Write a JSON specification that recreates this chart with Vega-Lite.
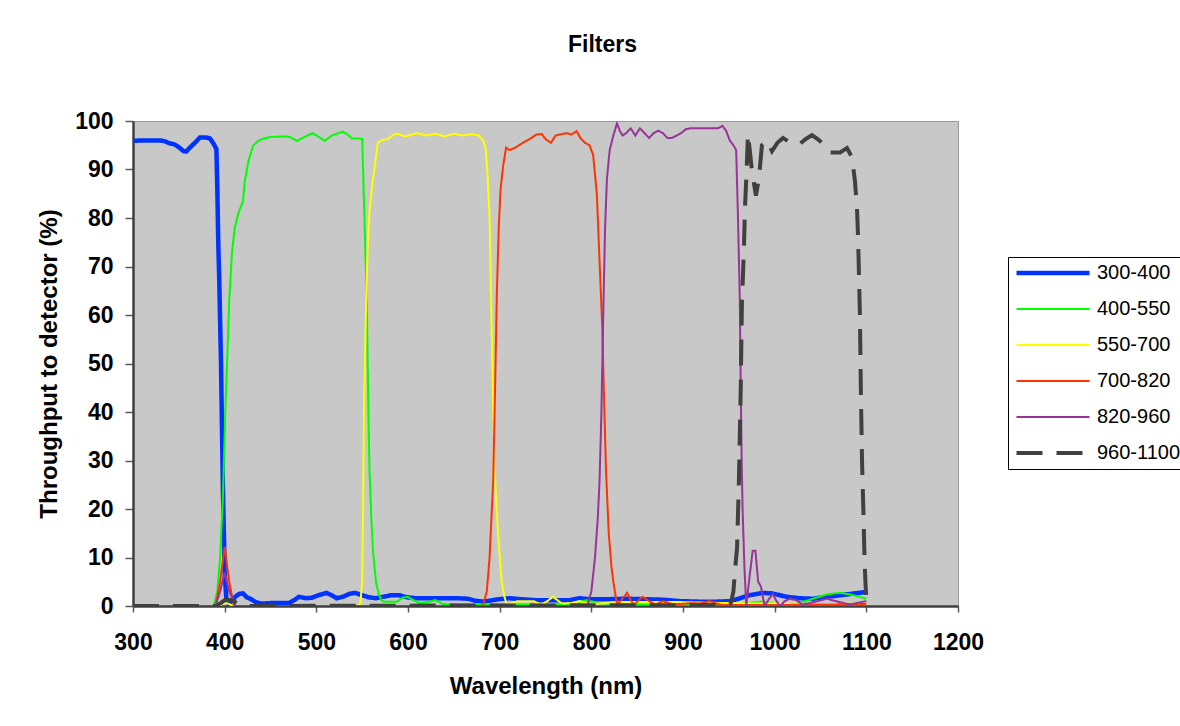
{
  "$schema": "https://vega.github.io/schema/vega-lite/v6.json",
  "width": 825,
  "height": 485,
  "autosize": {"type": "none"},
  "padding": {"left": 133, "top": 121, "right": 222, "bottom": 120},
  "background": "white",
  "title": {"text": "Filters", "font": "Liberation Sans", "fontSize": 23, "fontWeight": "bold", "color": "black", "anchor": "middle", "frame": "group", "baseline": "alphabetic", "offset": 35, "dx": 57},
  "config": {
    "view": {"fill": "#C8C8C8", "stroke": "#9A9A9A", "strokeWidth": 1},
    "axis": {"grid": false, "labelFont": "Liberation Sans", "labelFontWeight": "bold", "labelFontSize": 23, "labelColor": "black", "titleFont": "Liberation Sans", "titleFontWeight": "bold", "titleFontSize": 24, "titleColor": "black", "domainColor": "#404040", "domainWidth": 2.5, "tickColor": "#5A5A5A", "tickWidth": 1.5}
  },
  "data": {"values": [
    {"s":"300-400","x":300,"y":95.9},{"s":"300-400","x":310,"y":96},{"s":"300-400","x":320,"y":96},{"s":"300-400","x":330,"y":96},{"s":"300-400","x":335,"y":95.8},{"s":"300-400","x":340,"y":95.4},{"s":"300-400","x":345,"y":95.2},{"s":"300-400","x":350,"y":94.6},{"s":"300-400","x":355,"y":93.8},{"s":"300-400","x":358,"y":93.7},{"s":"300-400","x":362,"y":94.5},{"s":"300-400","x":368,"y":95.6},{"s":"300-400","x":373,"y":96.6},{"s":"300-400","x":380,"y":96.6},{"s":"300-400","x":384,"y":96.4},{"s":"300-400","x":388,"y":95.3},{"s":"300-400","x":391,"y":94.2},{"s":"300-400","x":392,"y":86},{"s":"300-400","x":393,"y":75},{"s":"300-400","x":394,"y":68},{"s":"300-400","x":396,"y":50},{"s":"300-400","x":398,"y":25},{"s":"300-400","x":400,"y":7},{"s":"300-400","x":402,"y":1},{"s":"300-400","x":404,"y":0.5},{"s":"300-400","x":408,"y":1},{"s":"300-400","x":412,"y":2},{"s":"300-400","x":416,"y":2.5},{"s":"300-400","x":420,"y":2.6},{"s":"300-400","x":424,"y":1.8},{"s":"300-400","x":428,"y":1.5},{"s":"300-400","x":434,"y":0.8},{"s":"300-400","x":440,"y":0.5},{"s":"300-400","x":450,"y":0.6},{"s":"300-400","x":460,"y":0.6},{"s":"300-400","x":470,"y":0.6},{"s":"300-400","x":476,"y":1.2},{"s":"300-400","x":481,"y":1.9},{"s":"300-400","x":489,"y":1.6},{"s":"300-400","x":495,"y":1.7},{"s":"300-400","x":502,"y":2.2},{"s":"300-400","x":511,"y":2.7},{"s":"300-400","x":517,"y":2.2},{"s":"300-400","x":522,"y":1.6},{"s":"300-400","x":529,"y":1.9},{"s":"300-400","x":536,"y":2.5},{"s":"300-400","x":542,"y":2.7},{"s":"300-400","x":549,"y":2.3},{"s":"300-400","x":557,"y":1.8},{"s":"300-400","x":565,"y":1.6},{"s":"300-400","x":573,"y":1.9},{"s":"300-400","x":581,"y":2.2},{"s":"300-400","x":591,"y":2.2},{"s":"300-400","x":599,"y":1.8},{"s":"300-400","x":609,"y":1.6},{"s":"300-400","x":624,"y":1.6},{"s":"300-400","x":639,"y":1.6},{"s":"300-400","x":654,"y":1.6},{"s":"300-400","x":665,"y":1.5},{"s":"300-400","x":673,"y":1.1},{"s":"300-400","x":681,"y":0.9},{"s":"300-400","x":689,"y":1.1},{"s":"300-400","x":699,"y":1.4},{"s":"300-400","x":711,"y":1.6},{"s":"300-400","x":723,"y":1.4},{"s":"300-400","x":740,"y":1.2},{"s":"300-400","x":758,"y":1.2},{"s":"300-400","x":776,"y":1.2},{"s":"300-400","x":787,"y":1.6},{"s":"300-400","x":798,"y":1.4},{"s":"300-400","x":818,"y":1.4},{"s":"300-400","x":838,"y":1.5},{"s":"300-400","x":858,"y":1.4},{"s":"300-400","x":878,"y":1.3},{"s":"300-400","x":897,"y":1},{"s":"300-400","x":917,"y":0.9},{"s":"300-400","x":937,"y":0.9},{"s":"300-400","x":952,"y":1},{"s":"300-400","x":962,"y":1.6},{"s":"300-400","x":972,"y":2.2},{"s":"300-400","x":987,"y":2.7},{"s":"300-400","x":997,"y":2.6},{"s":"300-400","x":1013,"y":1.9},{"s":"300-400","x":1027,"y":1.6},{"s":"300-400","x":1042,"y":1.5},{"s":"300-400","x":1057,"y":1.9},{"s":"300-400","x":1071,"y":2.2},{"s":"300-400","x":1087,"y":2.6},{"s":"300-400","x":1100,"y":2.9},

    {"s":"400-550","x":300,"y":0},{"s":"400-550","x":388,"y":0},{"s":"400-550","x":392,"y":3},{"s":"400-550","x":395,"y":10},{"s":"400-550","x":398,"y":22},{"s":"400-550","x":401,"y":42},{"s":"400-550","x":403,"y":52},{"s":"400-550","x":405,"y":63},{"s":"400-550","x":408,"y":73},{"s":"400-550","x":411,"y":78},{"s":"400-550","x":415,"y":81},{"s":"400-550","x":420,"y":83.5},{"s":"400-550","x":422,"y":87.6},{"s":"400-550","x":426,"y":91.8},{"s":"400-550","x":431,"y":94.9},{"s":"400-550","x":436,"y":95.8},{"s":"400-550","x":441,"y":96.3},{"s":"400-550","x":450,"y":96.7},{"s":"400-550","x":461,"y":96.8},{"s":"400-550","x":468,"y":96.8},{"s":"400-550","x":472,"y":96.6},{"s":"400-550","x":479,"y":95.9},{"s":"400-550","x":488,"y":96.8},{"s":"400-550","x":496,"y":97.5},{"s":"400-550","x":502,"y":96.8},{"s":"400-550","x":509,"y":95.9},{"s":"400-550","x":517,"y":97},{"s":"400-550","x":524,"y":97.5},{"s":"400-550","x":529,"y":97.8},{"s":"400-550","x":534,"y":97.2},{"s":"400-550","x":539,"y":96.4},{"s":"400-550","x":547,"y":96.4},{"s":"400-550","x":550,"y":96.3},{"s":"400-550","x":551,"y":89.7},{"s":"400-550","x":553,"y":76.7},{"s":"400-550","x":555,"y":63},{"s":"400-550","x":556,"y":50},{"s":"400-550","x":557,"y":38},{"s":"400-550","x":558,"y":28},{"s":"400-550","x":560,"y":18},{"s":"400-550","x":562,"y":11},{"s":"400-550","x":565,"y":5},{"s":"400-550","x":568,"y":2.5},{"s":"400-550","x":571,"y":1.2},{"s":"400-550","x":574,"y":0.9},{"s":"400-550","x":581,"y":0.9},{"s":"400-550","x":588,"y":0.9},{"s":"400-550","x":594,"y":1.7},{"s":"400-550","x":599,"y":1.9},{"s":"400-550","x":606,"y":1.2},{"s":"400-550","x":613,"y":0.6},{"s":"400-550","x":621,"y":0.8},{"s":"400-550","x":630,"y":1.2},{"s":"400-550","x":638,"y":0.4},{"s":"400-550","x":660,"y":0.3},{"s":"400-550","x":700,"y":0.3},{"s":"400-550","x":750,"y":0.3},{"s":"400-550","x":778,"y":0.4},{"s":"400-550","x":795,"y":1.2},{"s":"400-550","x":808,"y":0.6},{"s":"400-550","x":828,"y":0.4},{"s":"400-550","x":860,"y":0.3},{"s":"400-550","x":900,"y":0.3},{"s":"400-550","x":950,"y":0.4},{"s":"400-550","x":972,"y":0.6},{"s":"400-550","x":987,"y":0.9},{"s":"400-550","x":1002,"y":0.4},{"s":"400-550","x":1016,"y":0.1},{"s":"400-550","x":1037,"y":1.2},{"s":"400-550","x":1057,"y":2.4},{"s":"400-550","x":1071,"y":2.7},{"s":"400-550","x":1082,"y":2.4},{"s":"400-550","x":1100,"y":1.5},

    {"s":"550-700","x":300,"y":0},{"s":"550-700","x":394,"y":0},{"s":"550-700","x":398,"y":0.5},{"s":"550-700","x":402,"y":0.6},{"s":"550-700","x":406,"y":0.3},{"s":"550-700","x":410,"y":0},{"s":"550-700","x":545,"y":0},{"s":"550-700","x":548,"y":0.5},{"s":"550-700","x":550,"y":5},{"s":"550-700","x":551,"y":20},{"s":"550-700","x":552,"y":40},{"s":"550-700","x":554,"y":60},{"s":"550-700","x":556,"y":74},{"s":"550-700","x":558,"y":81.5},{"s":"550-700","x":561,"y":87},{"s":"550-700","x":564,"y":91},{"s":"550-700","x":567,"y":95.5},{"s":"550-700","x":571,"y":96},{"s":"550-700","x":578,"y":96.3},{"s":"550-700","x":583,"y":97},{"s":"550-700","x":588,"y":97.4},{"s":"550-700","x":597,"y":96.8},{"s":"550-700","x":604,"y":97.2},{"s":"550-700","x":610,"y":97.5},{"s":"550-700","x":620,"y":97},{"s":"550-700","x":630,"y":97.4},{"s":"550-700","x":640,"y":96.8},{"s":"550-700","x":650,"y":97.4},{"s":"550-700","x":660,"y":97},{"s":"550-700","x":670,"y":97.3},{"s":"550-700","x":677,"y":97},{"s":"550-700","x":682,"y":96},{"s":"550-700","x":685,"y":94},{"s":"550-700","x":687,"y":88},{"s":"550-700","x":689,"y":80},{"s":"550-700","x":691,"y":60},{"s":"550-700","x":693,"y":40},{"s":"550-700","x":695,"y":26},{"s":"550-700","x":698,"y":15.6},{"s":"550-700","x":702,"y":5.3},{"s":"550-700","x":705,"y":2},{"s":"550-700","x":708,"y":0.2},{"s":"550-700","x":713,"y":0.5},{"s":"550-700","x":719,"y":1},{"s":"550-700","x":729,"y":1},{"s":"550-700","x":737,"y":1},{"s":"550-700","x":745,"y":0.3},{"s":"550-700","x":752,"y":1},{"s":"550-700","x":758,"y":1.9},{"s":"550-700","x":768,"y":0.5},{"s":"550-700","x":778,"y":0.6},{"s":"550-700","x":787,"y":1},{"s":"550-700","x":798,"y":0.4},{"s":"550-700","x":828,"y":0.8},{"s":"550-700","x":858,"y":0.8},{"s":"550-700","x":898,"y":0.8},{"s":"550-700","x":948,"y":0.6},{"s":"550-700","x":978,"y":0.5},{"s":"550-700","x":1000,"y":0.5},{"s":"550-700","x":1050,"y":0.4},{"s":"550-700","x":1100,"y":0.5},

    {"s":"700-820","x":300,"y":0},{"s":"700-820","x":390,"y":0},{"s":"700-820","x":395,"y":5},{"s":"700-820","x":400,"y":12.2},{"s":"700-820","x":405,"y":5},{"s":"700-820","x":410,"y":0},{"s":"700-820","x":681,"y":0},{"s":"700-820","x":682,"y":0.3},{"s":"700-820","x":686,"y":3},{"s":"700-820","x":689,"y":10},{"s":"700-820","x":691,"y":18},{"s":"700-820","x":693,"y":26},{"s":"700-820","x":695,"y":45},{"s":"700-820","x":697,"y":65},{"s":"700-820","x":699,"y":78},{"s":"700-820","x":701,"y":86},{"s":"700-820","x":704,"y":91},{"s":"700-820","x":707,"y":94.5},{"s":"700-820","x":711,"y":94},{"s":"700-820","x":717,"y":94.5},{"s":"700-820","x":726,"y":95.6},{"s":"700-820","x":733,"y":96.3},{"s":"700-820","x":740,"y":97.2},{"s":"700-820","x":746,"y":97.3},{"s":"700-820","x":750,"y":96.3},{"s":"700-820","x":756,"y":95.5},{"s":"700-820","x":761,"y":97},{"s":"700-820","x":768,"y":97.3},{"s":"700-820","x":773,"y":97.5},{"s":"700-820","x":778,"y":97.2},{"s":"700-820","x":784,"y":97.9},{"s":"700-820","x":788,"y":96.5},{"s":"700-820","x":793,"y":95.5},{"s":"700-820","x":798,"y":95},{"s":"700-820","x":802,"y":93},{"s":"700-820","x":806,"y":85},{"s":"700-820","x":809,"y":71},{"s":"700-820","x":812,"y":57},{"s":"700-820","x":814,"y":42},{"s":"700-820","x":816,"y":28},{"s":"700-820","x":819,"y":15},{"s":"700-820","x":822,"y":8},{"s":"700-820","x":824,"y":5},{"s":"700-820","x":828,"y":0.3},{"s":"700-820","x":834,"y":1.5},{"s":"700-820","x":839,"y":2.7},{"s":"700-820","x":846,"y":0.2},{"s":"700-820","x":856,"y":1.9},{"s":"700-820","x":863,"y":1},{"s":"700-820","x":870,"y":0.3},{"s":"700-820","x":878,"y":1},{"s":"700-820","x":888,"y":0.4},{"s":"700-820","x":898,"y":0.4},{"s":"700-820","x":908,"y":0.6},{"s":"700-820","x":918,"y":0.5},{"s":"700-820","x":929,"y":1},{"s":"700-820","x":937,"y":0.5},{"s":"700-820","x":943,"y":0.2},{"s":"700-820","x":960,"y":0.2},{"s":"700-820","x":1000,"y":0.2},{"s":"700-820","x":1050,"y":0.3},{"s":"700-820","x":1100,"y":0.4},

    {"s":"820-960","x":300,"y":0},{"s":"820-960","x":390,"y":0},{"s":"820-960","x":395,"y":3},{"s":"820-960","x":400,"y":6.9},{"s":"820-960","x":405,"y":3},{"s":"820-960","x":412,"y":0},{"s":"820-960","x":795,"y":0},{"s":"820-960","x":796,"y":0.3},{"s":"820-960","x":800,"y":3},{"s":"820-960","x":804,"y":10},{"s":"820-960","x":807,"y":18},{"s":"820-960","x":809,"y":26},{"s":"820-960","x":811,"y":40},{"s":"820-960","x":813,"y":60},{"s":"820-960","x":815,"y":78},{"s":"820-960","x":817,"y":88},{"s":"820-960","x":820,"y":94},{"s":"820-960","x":824,"y":97},{"s":"820-960","x":828,"y":99.5},{"s":"820-960","x":831,"y":98},{"s":"820-960","x":834,"y":97},{"s":"820-960","x":838,"y":97.5},{"s":"820-960","x":843,"y":98.5},{"s":"820-960","x":848,"y":97},{"s":"820-960","x":853,"y":98.5},{"s":"820-960","x":858,"y":97.5},{"s":"820-960","x":863,"y":96.5},{"s":"820-960","x":868,"y":97.5},{"s":"820-960","x":873,"y":98},{"s":"820-960","x":878,"y":97.5},{"s":"820-960","x":883,"y":96.5},{"s":"820-960","x":888,"y":96.5},{"s":"820-960","x":893,"y":97},{"s":"820-960","x":898,"y":97.5},{"s":"820-960","x":903,"y":98.3},{"s":"820-960","x":908,"y":98.5},{"s":"820-960","x":918,"y":98.5},{"s":"820-960","x":928,"y":98.5},{"s":"820-960","x":938,"y":98.5},{"s":"820-960","x":943,"y":99},{"s":"820-960","x":947,"y":98},{"s":"820-960","x":951,"y":96},{"s":"820-960","x":955,"y":95},{"s":"820-960","x":958,"y":94},{"s":"820-960","x":960,"y":80},{"s":"820-960","x":962,"y":63},{"s":"820-960","x":963,"y":45},{"s":"820-960","x":964,"y":30},{"s":"820-960","x":965,"y":20},{"s":"820-960","x":967,"y":8},{"s":"820-960","x":969,"y":0},{"s":"820-960","x":972,"y":5},{"s":"820-960","x":976,"y":11.4},{"s":"820-960","x":979,"y":11.4},{"s":"820-960","x":982,"y":5},{"s":"820-960","x":985,"y":4},{"s":"820-960","x":989,"y":0},{"s":"820-960","x":994,"y":1.5},{"s":"820-960","x":998,"y":2.5},{"s":"820-960","x":1002,"y":1},{"s":"820-960","x":1006,"y":0},{"s":"820-960","x":1011,"y":1},{"s":"820-960","x":1016,"y":1.5},{"s":"820-960","x":1024,"y":1.2},{"s":"820-960","x":1030,"y":0.3},{"s":"820-960","x":1036,"y":0.5},{"s":"820-960","x":1047,"y":1},{"s":"820-960","x":1057,"y":1.5},{"s":"820-960","x":1067,"y":1},{"s":"820-960","x":1082,"y":0.3},{"s":"820-960","x":1089,"y":0.6},{"s":"820-960","x":1100,"y":1},

    {"s":"960-1100","x":300,"y":0},{"s":"960-1100","x":390,"y":0},{"s":"960-1100","x":395,"y":0.5},{"s":"960-1100","x":400,"y":1.2},{"s":"960-1100","x":405,"y":1.3},{"s":"960-1100","x":410,"y":1},{"s":"960-1100","x":415,"y":0.3},{"s":"960-1100","x":420,"y":0},{"s":"960-1100","x":950,"y":0.2},{"s":"960-1100","x":952,"y":0.5},{"s":"960-1100","x":955,"y":3},{"s":"960-1100","x":957,"y":8},{"s":"960-1100","x":959,"y":12},{"s":"960-1100","x":961,"y":26},{"s":"960-1100","x":963,"y":45},{"s":"960-1100","x":964.3,"y":63},{"s":"960-1100","x":965.4,"y":68},{"s":"960-1100","x":966.5,"y":74},{"s":"960-1100","x":967.6,"y":82},{"s":"960-1100","x":969,"y":88},{"s":"960-1100","x":970.9,"y":97.3},{"s":"960-1100","x":973.1,"y":93.5},{"s":"960-1100","x":975.2,"y":89.7},{"s":"960-1100","x":979.6,"y":84.6},{"s":"960-1100","x":982.9,"y":88.3},{"s":"960-1100","x":986.1,"y":95},{"s":"960-1100","x":991.6,"y":96},{"s":"960-1100","x":997.1,"y":93.8},{"s":"960-1100","x":1003,"y":95.5},{"s":"960-1100","x":1009.1,"y":96.5},{"s":"960-1100","x":1015,"y":95.8},{"s":"960-1100","x":1020,"y":95.3},{"s":"960-1100","x":1027.6,"y":95.3},{"s":"960-1100","x":1034,"y":96.3},{"s":"960-1100","x":1040.7,"y":97.1},{"s":"960-1100","x":1045,"y":96.5},{"s":"960-1100","x":1049.4,"y":95.9},{"s":"960-1100","x":1055,"y":94.5},{"s":"960-1100","x":1060.3,"y":93.5},{"s":"960-1100","x":1071.3,"y":93.5},{"s":"960-1100","x":1078.9,"y":94.4},{"s":"960-1100","x":1084.4,"y":92.5},{"s":"960-1100","x":1087.6,"y":87.6},{"s":"960-1100","x":1089.8,"y":82},{"s":"960-1100","x":1091,"y":76},{"s":"960-1100","x":1093,"y":60},{"s":"960-1100","x":1094,"y":45},{"s":"960-1100","x":1095.3,"y":30},{"s":"960-1100","x":1097,"y":18},{"s":"960-1100","x":1098,"y":10},{"s":"960-1100","x":1099,"y":5},{"s":"960-1100","x":1100,"y":1.5}
  ]},
  "mark": {"type": "line", "clip": true},
  "encoding": {
    "x": {"field": "x", "type": "quantitative", "title": "Wavelength (nm)",
      "scale": {"domain": [300, 1200], "nice": false, "zero": false},
      "axis": {"values": [300,400,500,600,700,800,900,1000,1100,1200], "format": "d", "tickSize": 6, "labelPadding": 19, "titlePadding": 20, "labelFlush": false}},
    "y": {"field": "y", "type": "quantitative", "title": "Throughput to detector (%)",
      "scale": {"domain": [0, 100], "nice": false},
      "axis": {"values": [0,10,20,30,40,50,60,70,80,90,100], "format": "d", "tickSize": 8, "labelPadding": 12, "titlePadding": 13}},
    "color": {"field": "s", "type": "nominal",
      "scale": {"domain": ["300-400","400-550","550-700","700-820","820-960","960-1100"], "range": ["#0033FF","#00FF00","#FFFF00","#FF3300","#993399","#404040"]},
      "legend": {"title": null, "orient": "none", "legendX": 875, "legendY": 136, "symbolType": "stroke", "symbolSize": 5329, "clipHeight": 20, "rowPadding": 16, "padding": 6, "labelOffset": 5, "labelFont": "Liberation Sans", "labelFontSize": 20, "labelColor": "black", "strokeColor": "black", "fillColor": "white", "labelLimit": 200}},
    "strokeDash": {"field": "s", "type": "nominal",
      "scale": {"domain": ["300-400","400-550","550-700","700-820","820-960","960-1100"], "range": [[1,0],[1,0],[1,0],[1,0],[1,0],[26,14]]},
      "legend": {"title": null, "orient": "none", "legendX": 875, "legendY": 136, "symbolType": "stroke", "symbolSize": 5329, "clipHeight": 20, "rowPadding": 16, "padding": 6, "labelOffset": 5, "labelFont": "Liberation Sans", "labelFontSize": 20, "labelColor": "black", "strokeColor": "black", "fillColor": "white", "labelLimit": 200}},
    "strokeWidth": {"field": "s", "type": "nominal",
      "scale": {"type": "ordinal", "domain": ["300-400","400-550","550-700","700-820","820-960","960-1100"], "range": [4.5,2,2,2,2,4]},
      "legend": {"title": null, "orient": "none", "legendX": 875, "legendY": 136, "symbolType": "stroke", "symbolSize": 5329, "clipHeight": 20, "rowPadding": 16, "padding": 6, "labelOffset": 5, "labelFont": "Liberation Sans", "labelFontSize": 20, "labelColor": "black", "strokeColor": "black", "fillColor": "white", "labelLimit": 200}}
  }
}
